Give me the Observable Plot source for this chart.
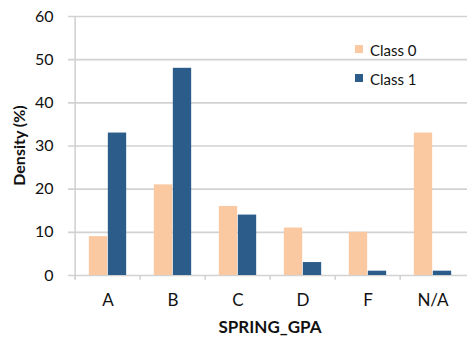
<!DOCTYPE html>
<html>
<head>
<meta charset="utf-8">
<script src="https://cdn.jsdelivr.net/npm/d3@7"></script>
<script src="https://cdn.jsdelivr.net/npm/@observablehq/plot@0.6"></script>
<style>
  html, body { margin: 0; padding: 0; background: #fff; }
  #chart { position: relative; width: 467px; height: 338px; }
  #chart svg g[aria-label="x-axis tick label"] text,
  #chart svg g[aria-label="x-axis"] text { font-size: 17px; }
</style>
</head>
<body>
<div id="chart"></div>
<script>
// Grade categories and the density (%) of each class within them
const grades = ["A", "B", "C", "D", "F", "N/A"];
const class0 = [9, 21, 16, 11, 10, 33];
const class1 = [33, 48, 14, 3, 1, 1];
const yTicks = [0, 10, 20, 30, 40, 50, 60];
const seriesNames = ["Class 0", "Class 1"];
const colors = ["#fbc9a1", "#2b5c8a"];

const rows = grades.map((g, i) => ({grade: g, c0: class0[i], c1: class1[i]}));

const W = 467, H = 338;
const mL = 73, mR = 0, mT = 16, mB = 63;
const step = (W - mL - mR) / grades.length;
const barW = 19;
const grid = "#d2d2d2";

const plot = Plot.plot({
  width: W,
  height: H,
  marginLeft: mL,
  marginRight: mR,
  marginTop: mT,
  marginBottom: mB,
  style: {fontFamily: "Lato, sans-serif", fontSize: "16px", color: "#111", background: "#fff"},
  x: {domain: grades, padding: 0, tickSize: 0, tickPadding: 18, label: null},
  y: {domain: [0, 60], ticks: yTicks, tickSize: 0, tickPadding: 20, label: null},
  marks: [
    // horizontal gridlines, reaching a little left of the axis
    Plot.ruleY(yTicks, {stroke: grid, strokeWidth: 1.6, insetLeft: -5}),
    // vertical axis line
    Plot.ruleX([grades[0]], {y1: 60, y2: -1, stroke: grid, strokeWidth: 1.6, dx: -step / 2}),
    // category boundary ticks
    Plot.ruleX(grades, {y1: 0, y2: -1.1, stroke: grid, strokeWidth: 1.6, dx: -step / 2}),
    Plot.barY(rows, {x: "grade", y: "c0", fill: colors[0],
      insetLeft: step / 2 - barW, insetRight: step / 2}),
    Plot.barY(rows, {x: "grade", y: "c1", fill: colors[1],
      insetLeft: step / 2, insetRight: step / 2 - barW})
  ]
});

document.getElementById("chart").appendChild(plot);

const svg = d3.select(plot);

// axis titles
svg.append("text")
  .attr("transform", `translate(18,${mT + (H - mT - mB) / 2}) rotate(-90)`)
  .attr("text-anchor", "middle")
  .attr("dominant-baseline", "central")
  .style("font-weight", "bold")
  .style("font-size", "16px")
  .attr("fill", "#111")
  .text("Density (%)");

svg.append("text")
  .attr("x", mL + (W - mL - mR) / 2)
  .attr("y", 326)
  .attr("text-anchor", "middle")
  .attr("dominant-baseline", "central")
  .style("font-weight", "bold")
  .style("font-size", "17px")
  .attr("fill", "#111")
  .text("SPRING_GPA");

// legend
const legend = svg.append("g").attr("transform", "translate(355,45)");
seriesNames.forEach((name, i) => {
  const g = legend.append("g").attr("transform", `translate(0,${i * 29})`);
  g.append("rect").attr("width", 8).attr("height", 8).attr("fill", colors[i]);
  g.append("text")
    .attr("x", 15).attr("y", 4.5)
    .attr("text-anchor", "start")
    .attr("dominant-baseline", "central")
    .style("font-size", "15px")
    .attr("fill", "#111")
    .text(name);
});
</script>
</body>
</html>
